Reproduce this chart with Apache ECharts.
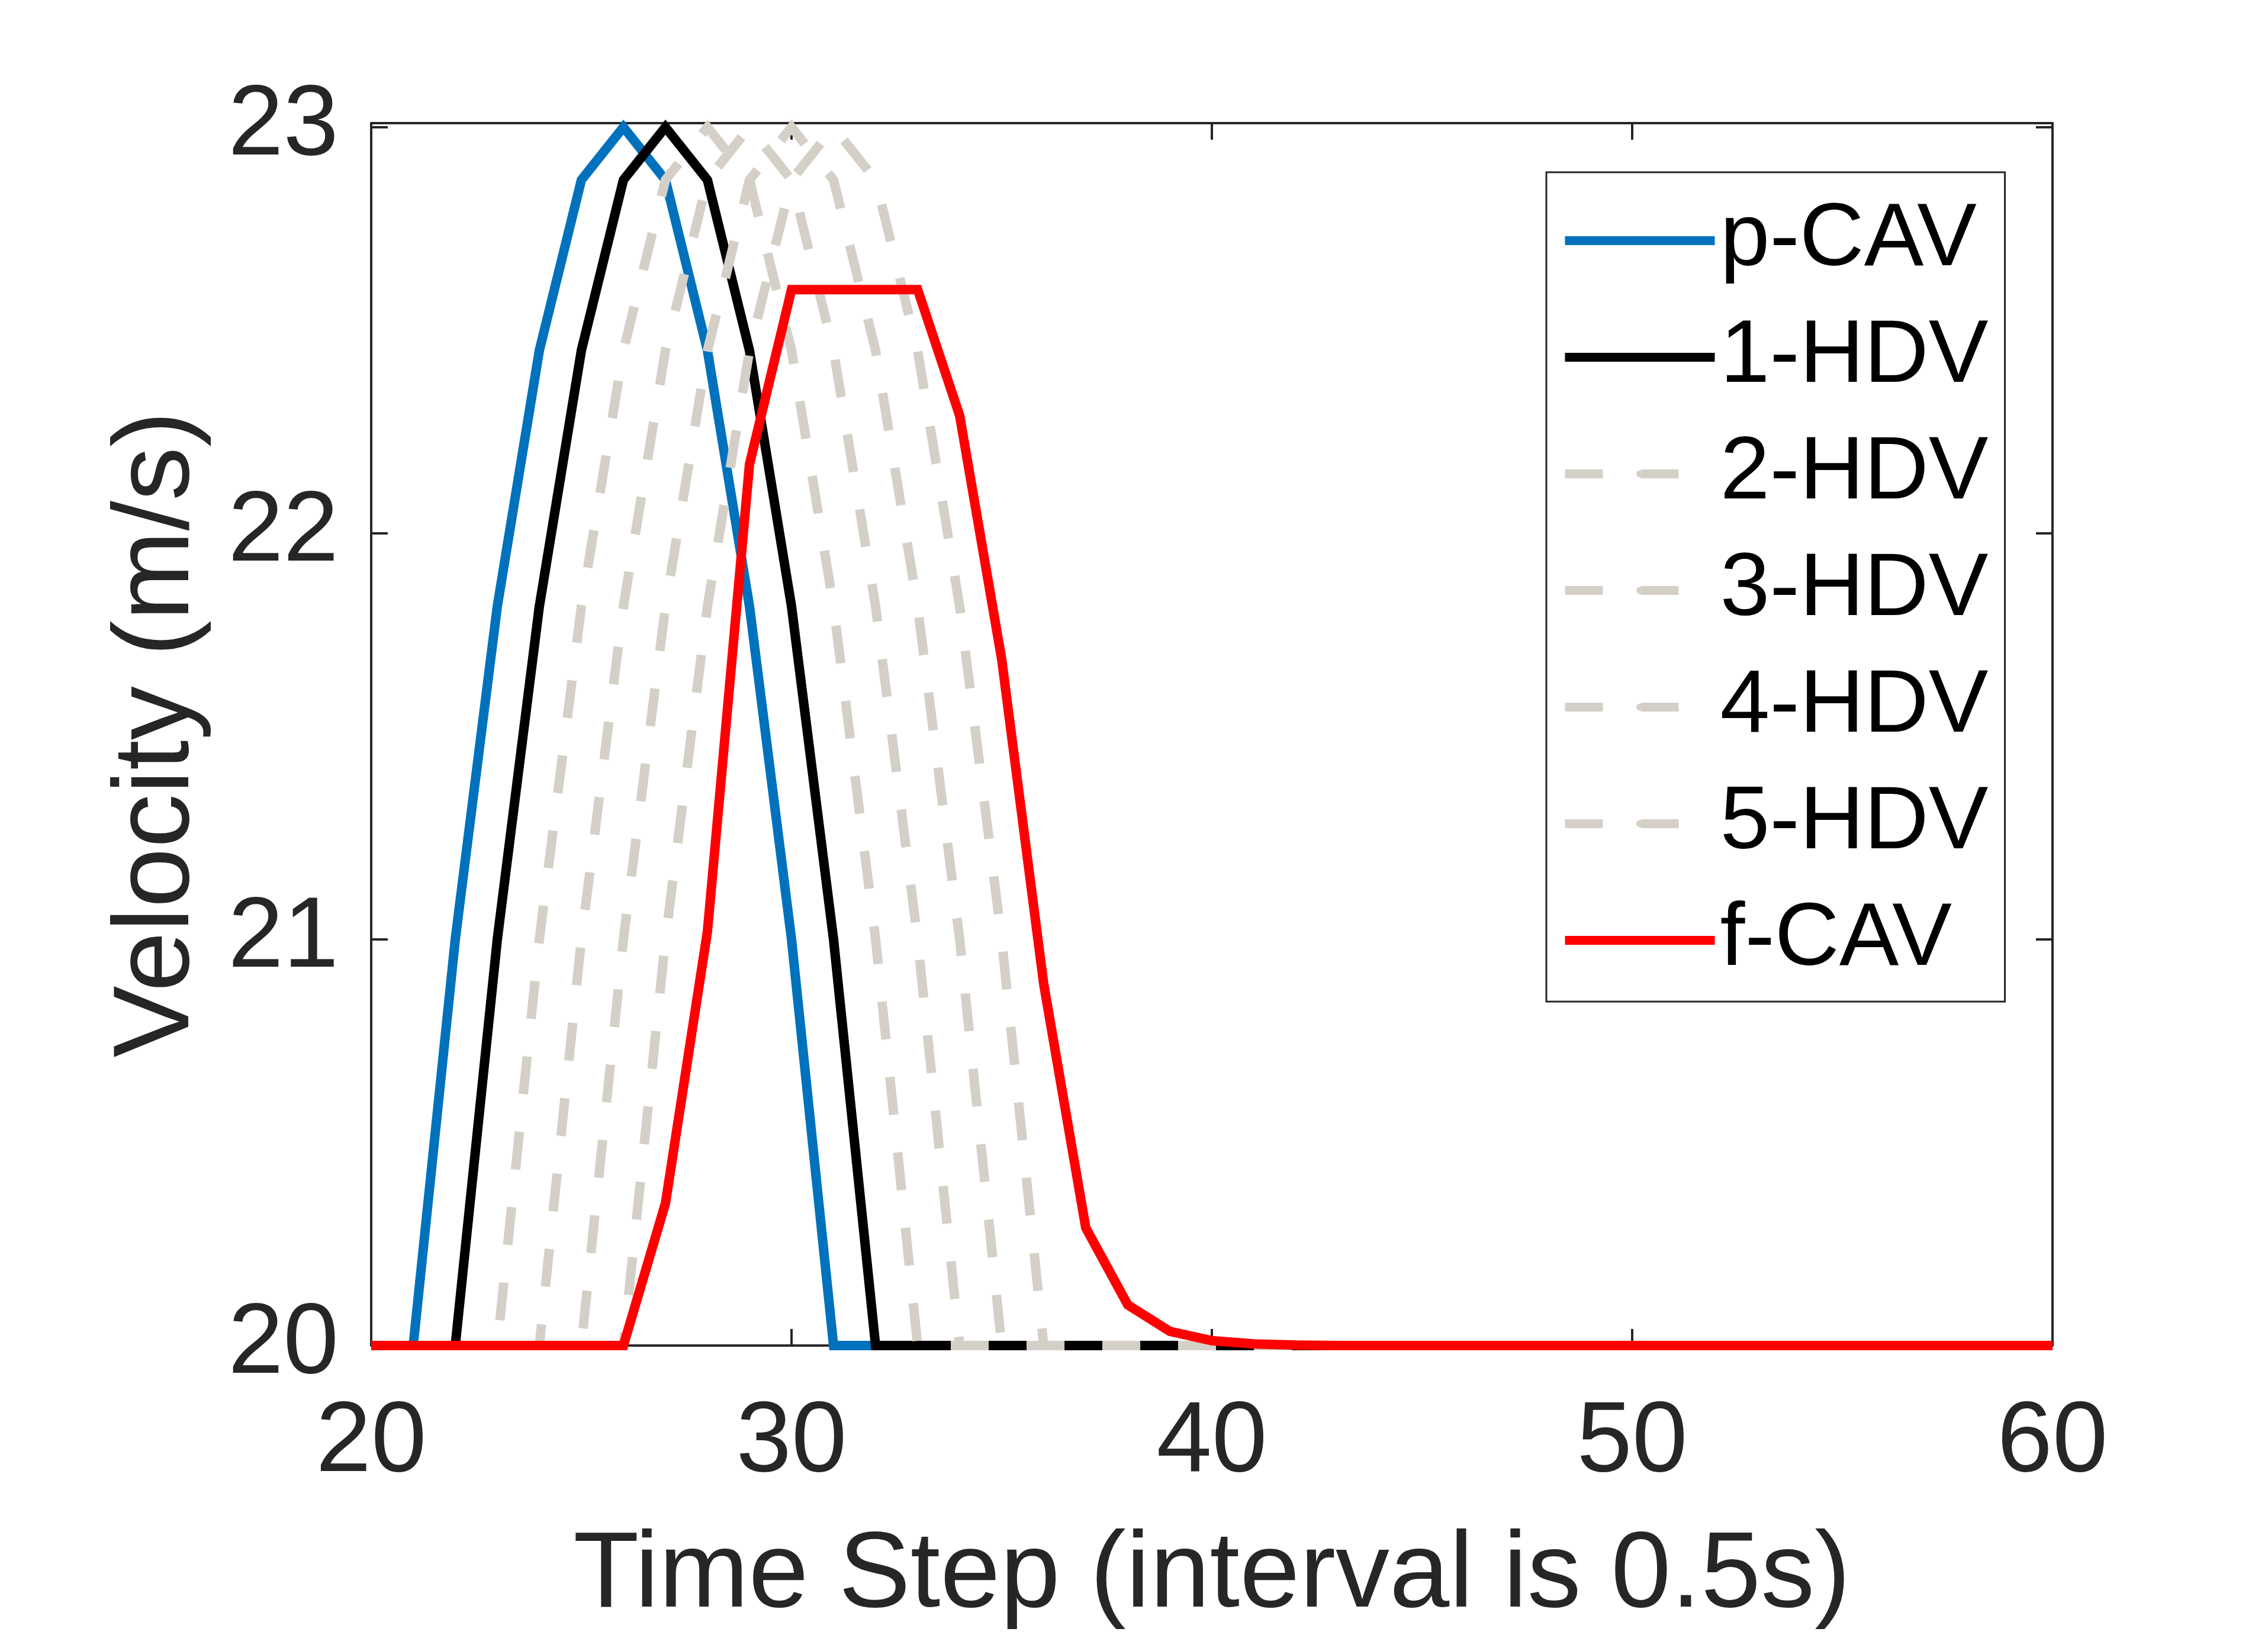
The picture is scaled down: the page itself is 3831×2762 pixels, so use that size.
<!DOCTYPE html>
<html>
<head>
  <meta charset="utf-8">
  <title>Velocity</title>
  <script src="https://cdn.jsdelivr.net/npm/echarts@6.0.0/dist/echarts.min.js"></script>
  <style type="text/css">
    html, body { margin: 0; padding: 0; background: #fff; }
    #chart { width: 3831px; height: 2762px; }
  </style>
</head>
<body>
  <div id="chart"></div>
  <script>
    // time steps shown on the x axis
    var steps = [20, 21, 22, 23, 24, 25, 26, 27, 28, 29, 30, 31, 32, 33, 34, 35, 36, 37, 38, 39, 40,
                 41, 42, 43, 44, 45, 46, 47, 48, 49, 50, 51, 52, 53, 54, 55, 56, 57, 58, 59, 60];

    // velocity (m/s) of each vehicle, one value per time step
    var pCAV = [20, 20, 21.0, 21.82, 22.45, 22.87, 23.0, 22.87, 22.45, 21.82, 21.0, 20, 20, 20, 20, 20, 20, 20, 20, 20, 20,
                20, 20, 20, 20, 20, 20, 20, 20, 20, 20, 20, 20, 20, 20, 20, 20, 20, 20, 20, 20];
    var hdv1 = [20, 20, 20, 21.0, 21.82, 22.45, 22.87, 23.0, 22.87, 22.45, 21.82, 21.0, 20, 20, 20, 20, 20, 20, 20, 20, 20,
                20, 20, 20, 20, 20, 20, 20, 20, 20, 20, 20, 20, 20, 20, 20, 20, 20, 20, 20, 20];
    var hdv2 = [20, 20, 20, 20, 21.0, 21.82, 22.45, 22.87, 23.0, 22.87, 22.45, 21.82, 21.0, 20, 20, 20, 20, 20, 20, 20, 20,
                20, 20, 20, 20, 20, 20, 20, 20, 20, 20, 20, 20, 20, 20, 20, 20, 20, 20, 20, 20];
    var hdv3 = [20, 20, 20, 20, 20, 21.0, 21.82, 22.45, 22.87, 23.0, 22.87, 22.45, 21.82, 21.0, 20, 20, 20, 20, 20, 20, 20,
                20, 20, 20, 20, 20, 20, 20, 20, 20, 20, 20, 20, 20, 20, 20, 20, 20, 20, 20, 20];
    var hdv4 = [20, 20, 20, 20, 20, 20, 21.0, 21.82, 22.45, 22.87, 23.0, 22.87, 22.45, 21.82, 21.0, 20, 20, 20, 20, 20, 20,
                20, 20, 20, 20, 20, 20, 20, 20, 20, 20, 20, 20, 20, 20, 20, 20, 20, 20, 20, 20];
    var hdv5 = [20, 20, 20, 20, 20, 20, 20, 21.0, 21.82, 22.45, 22.87, 23.0, 22.87, 22.45, 21.82, 21.0, 20, 20, 20, 20, 20,
                20, 20, 20, 20, 20, 20, 20, 20, 20, 20, 20, 20, 20, 20, 20, 20, 20, 20, 20, 20];
    var fCAV = [20, 20, 20, 20, 20, 20, 20, 20.35, 21.02, 22.17, 22.6, 22.6, 22.6, 22.6, 22.29, 21.69, 20.89, 20.29, 20.10, 20.035, 20.012,
                20.004, 20.001, 20, 20, 20, 20, 20, 20, 20, 20, 20, 20, 20, 20, 20, 20, 20, 20, 20, 20];

    var names = ['p-CAV', '1-HDV', '2-HDV', '3-HDV', '4-HDV', '5-HDV', 'f-CAV'];
    var values = [pCAV, hdv1, hdv2, hdv3, hdv4, hdv5, fCAV];
    var colors = ['#0072bd', '#000000', '#d4d0c8', '#d4d0c8', '#d4d0c8', '#d4d0c8', '#ff0000'];
    var dashed = [false, false, true, true, true, true, false];

    var axisColor = '#262626';
    var font = '"Liberation Sans", Arial, Helvetica, sans-serif';

    function pairs(ys) {
      var out = [];
      for (var i = 0; i < steps.length; i++) out.push([steps[i], ys[i]]);
      return out;
    }

    var series = [];
    for (var k = 0; k < names.length; k++) {
      series.push({
        name: names[k],
        type: 'line',
        data: pairs(values[k]),
        symbol: 'none',
        color: colors[k],
        lineStyle: { color: colors[k], width: 16, type: dashed[k] ? [64, 64] : 'solid', cap: 'butt', join: 'miter' },
        z: 2 + k
      });
    }

    // box axes, ticks point inward on all four sides
    function xAx(pos, labels) {
      return {
        type: 'value', position: pos, min: 20, max: 60, interval: 10,
        name: labels ? 'Time Step (interval is 0.5s)' : '',
        nameLocation: 'middle', nameGap: 300,
        nameTextStyle: { fontSize: 182, color: axisColor, fontFamily: font },
        axisLine: { show: true, onZero: false, lineStyle: { color: axisColor, width: 4 } },
        axisTick: { show: true, inside: true, length: 28, lineStyle: { color: axisColor, width: 4 } },
        axisLabel: { show: labels, fontSize: 168, color: axisColor, fontFamily: font, margin: 82 },
        splitLine: { show: false }
      };
    }
    function yAx(pos, labels) {
      return {
        type: 'value', position: pos, min: 20, max: 23.01, interval: 1,
        name: labels ? 'Velocity (m/s)' : '',
        nameLocation: 'middle', nameGap: 268, nameRotate: 90,
        nameTextStyle: { fontSize: 182, color: axisColor, fontFamily: font },
        axisLine: { show: true, onZero: false, lineStyle: { color: axisColor, width: 4 } },
        axisTick: { show: true, inside: true, length: 28, lineStyle: { color: axisColor, width: 4 } },
        axisLabel: {
          show: labels, fontSize: 168, color: axisColor, fontFamily: font, margin: 55,
          formatter: function (v) { return Math.abs(v - Math.round(v)) < 1e-6 ? String(Math.round(v)) : ''; }
        },
        splitLine: { show: false }
      };
    }

    var myChart = echarts.init(document.getElementById('chart'), null, { renderer: 'canvas' });
    var option = {
      animation: false,
      backgroundColor: '#ffffff',
      grid: { left: 627, right: 364, top: 208, bottom: 489, containLabel: false },
      xAxis: [xAx('bottom', true), xAx('top', false)],
      yAxis: [yAx('left', true), yAx('right', false)],
      legend: {
        orient: 'vertical',
        left: 2612, top: 291,
        padding: [40, 28, 28, 24],
        itemWidth: 253, itemHeight: 15, itemGap: 46,
        backgroundColor: '#ffffff',
        borderColor: axisColor, borderWidth: 3, borderRadius: 0,
        lineStyle: { width: 15 },
        textStyle: { fontSize: 151, lineHeight: 150, color: '#000000', fontFamily: font, padding: [0, 0, 0, 4] },
        data: names
      },
      series: series
    };
    myChart.setOption(option);
  </script>
</body>
</html>
